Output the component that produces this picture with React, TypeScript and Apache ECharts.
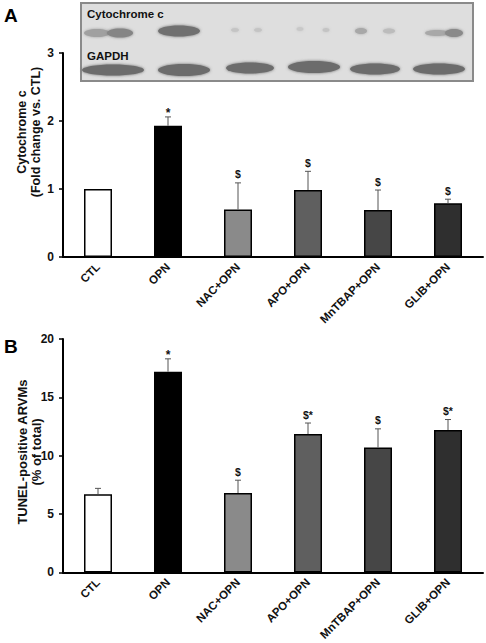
import React, { useEffect, useRef } from "react";
import * as echarts from "echarts";

const categories = ["CTL", "OPN", "NAC+OPN", "APO+OPN", "MnTBAP+OPN", "GLIB+OPN"];
const barColors = ["#ffffff", "#000000", "#8a8a8a", "#5f5f5f", "#464646", "#2f2f2f"];

const cytoMeans = [1.0, 1.93, 0.7, 0.985, 0.69, 0.79];
const cytoErrTop = [1.0, 2.06, 1.09, 1.26, 0.985, 0.85];
const cytoMarks = ["", "*", "$", "$", "$", "$"];
const cytoTicks = [0, 1, 2, 3];

const tunelMeans = [6.7, 17.2, 6.8, 11.85, 10.7, 12.2];
const tunelErrTop = [7.2, 18.3, 7.9, 12.8, 12.3, 13.1];
const tunelMarks = ["", "*", "$", "$*", "$", "$*"];
const tunelTicks = [0, 5, 10, 15, 20];

const FONT = "'Liberation Sans', Arial, sans-serif";

function errSeries(gridIdx: number, means: number[], tops: number[], marks: string[]) {
  return {
    type: "custom",
    xAxisIndex: gridIdx,
    yAxisIndex: gridIdx,
    z: 5,
    data: means.map((m, i) => [i, m, tops[i], i]),
    renderItem: (params: any, api: any) => {
      const i = api.value(0);
      const base = api.coord([i, api.value(1)]);
      const top = api.coord([i, api.value(2)]);
      const mark = marks[api.value(3)];
      const children: any[] = [];
      if (top[1] < base[1] - 0.5) {
        children.push({
          type: "line",
          shape: { x1: base[0], y1: base[1], x2: top[0], y2: top[1] },
          style: { stroke: "#555", lineWidth: 1 },
        });
        children.push({
          type: "line",
          shape: { x1: top[0] - 3, y1: top[1], x2: top[0] + 3, y2: top[1] },
          style: { stroke: "#555", lineWidth: 1 },
        });
      }
      if (mark) {
        const isStar = mark === "*";
        children.push({
          type: "text",
          x: top[0],
          y: isStar ? top[1] + 2 : top[1] - 3,
          style: {
            text: mark,
            fill: "#111",
            font: `bold ${isStar ? 12 : 10.5}px ${FONT}`,
            align: "center",
            verticalAlign: "bottom",
          },
        });
      }
      return { type: "group", children };
    },
  };
}

function barSeries(gridIdx: number, means: number[]) {
  return {
    type: "bar",
    xAxisIndex: gridIdx,
    yAxisIndex: gridIdx,
    barWidth: "40%",
    data: means.map((v, i) => ({
      value: v,
      itemStyle: { color: barColors[i], borderColor: "#000", borderWidth: 1.5 },
    })),
  };
}

function xAxisDef(gridIdx: number) {
  return {
    type: "category",
    gridIndex: gridIdx,
    data: categories,
    axisLine: { lineStyle: { color: "#000", width: 2 } },
    axisTick: { show: false },
    axisLabel: {
      interval: 0,
      rotate: 45,
      margin: 8,
      color: "#111",
      fontFamily: FONT,
      fontWeight: "bold",
      fontSize: 11.5,
    },
  };
}

function yAxisDef(gridIdx: number, ticks: number[]) {
  return {
    type: "value",
    gridIndex: gridIdx,
    min: ticks[0],
    max: ticks[ticks.length - 1],
    interval: ticks[1] - ticks[0],
    axisLine: { show: true, lineStyle: { color: "#000", width: 2 } },
    axisTick: { show: true, length: 4, lineStyle: { color: "#000", width: 1.5 } },
    splitLine: { show: false },
    axisLabel: {
      margin: 9,
      color: "#111",
      fontFamily: FONT,
      fontWeight: "bold",
      fontSize: 12,
    },
  };
}

export default function App() {
  const ref = useRef<HTMLDivElement>(null);
  useEffect(() => {
    if (!ref.current) return;
    const chart = echarts.init(ref.current, null, { renderer: "svg" });

    const blotLeft = 81;
    const blotTop = 3;
    const blotW = 392;
    const blotH = 78;
    const cytBands = [
      { cx: 97, cy: 33, rx: 13, ry: 4, c: "#a0a0a0" },
      { cx: 120, cy: 33, rx: 13, ry: 4.5, c: "#858585" },
      { cx: 179, cy: 31, rx: 21, ry: 5.5, c: "#707070" },
      { cx: 235, cy: 30, rx: 4, ry: 2, c: "#c4c4c4" },
      { cx: 258, cy: 30, rx: 4, ry: 2, c: "#c4c4c4" },
      { cx: 300, cy: 29, rx: 3.5, ry: 2, c: "#c8c8c8" },
      { cx: 326, cy: 30, rx: 3.5, ry: 2, c: "#c4c4c4" },
      { cx: 361, cy: 31, rx: 6, ry: 3, c: "#a8a8a8" },
      { cx: 389, cy: 31, rx: 6, ry: 2.5, c: "#bcbcbc" },
      { cx: 437, cy: 33, rx: 12, ry: 3, c: "#a8a8a8" },
      { cx: 454, cy: 33, rx: 9, ry: 4, c: "#8a8a8a" },
    ];
    const gapdhBands = [
      { cx: 113, cy: 70, rx: 31, ry: 5.5 },
      { cx: 184, cy: 70, rx: 26, ry: 6 },
      { cx: 250, cy: 68, rx: 24, ry: 5.5 },
      { cx: 314, cy: 67, rx: 26, ry: 6 },
      { cx: 375, cy: 69, rx: 25, ry: 5.5 },
      { cx: 439, cy: 69, rx: 26, ry: 5.5 },
    ];

    const graphics: any[] = [
      {
        type: "rect",
        shape: { x: blotLeft, y: blotTop, width: blotW, height: blotH },
        style: { fill: "#dedede", stroke: "#8a8a8a", lineWidth: 2 },
      },
      ...cytBands.map((b) => ({
        type: "ellipse",
        shape: { cx: b.cx, cy: b.cy, rx: b.rx, ry: b.ry },
        style: { fill: b.c, shadowBlur: 3, shadowColor: b.c },
      })),
      ...gapdhBands.map((b) => ({
        type: "ellipse",
        shape: { cx: b.cx, cy: b.cy, rx: b.rx, ry: b.ry },
        style: { fill: "#6c6c6c", shadowBlur: 3, shadowColor: "#6c6c6c" },
      })),
      {
        type: "text",
        x: 87,
        y: 14,
        style: { text: "Cytochrome c", font: `bold 11.5px ${FONT}`, fill: "#111", verticalAlign: "middle" },
      },
      {
        type: "text",
        x: 87,
        y: 56,
        style: { text: "GAPDH", font: `bold 11.5px ${FONT}`, fill: "#111", verticalAlign: "middle" },
      },
      {
        type: "text",
        x: 4,
        y: 15,
        style: { text: "A", font: `bold 19px ${FONT}`, fill: "#000", verticalAlign: "middle" },
      },
      {
        type: "text",
        x: 4,
        y: 346,
        style: { text: "B", font: `bold 19px ${FONT}`, fill: "#000", verticalAlign: "middle" },
      },
      {
        type: "text",
        x: 29,
        y: 132,
        rotation: Math.PI / 2,
        style: {
          text: "Cytochrome c\n(Fold change vs. CTL)",
          font: `bold 12.5px ${FONT}`,
          fill: "#111",
          align: "center",
          verticalAlign: "middle",
          lineHeight: 14,
        },
      },
      {
        type: "text",
        x: 29,
        y: 452,
        rotation: Math.PI / 2,
        style: {
          text: "TUNEL-positive ARVMs\n(% of total)",
          font: `bold 13px ${FONT}`,
          fill: "#111",
          align: "center",
          verticalAlign: "middle",
          lineHeight: 14,
        },
      },
    ];

    chart.setOption({
      animation: false,
      backgroundColor: "#fff",
      grid: [
        { left: 63, top: 53, width: 420, height: 204 },
        { left: 63, top: 339, width: 420, height: 236 },
      ],
      xAxis: [xAxisDef(0), xAxisDef(1)],
      yAxis: [yAxisDef(0, cytoTicks), yAxisDef(1, tunelTicks)],
      series: [
        barSeries(0, cytoMeans),
        errSeries(0, cytoMeans, cytoErrTop, cytoMarks),
        barSeries(1, tunelMeans),
        errSeries(1, tunelMeans, tunelErrTop, tunelMarks),
      ],
      graphic: graphics,
    });
    return () => chart.dispose();
  }, []);
  return <div ref={ref} style={{ width: 486, height: 643, position: "absolute", left: 0, top: 0 }} />;
}
